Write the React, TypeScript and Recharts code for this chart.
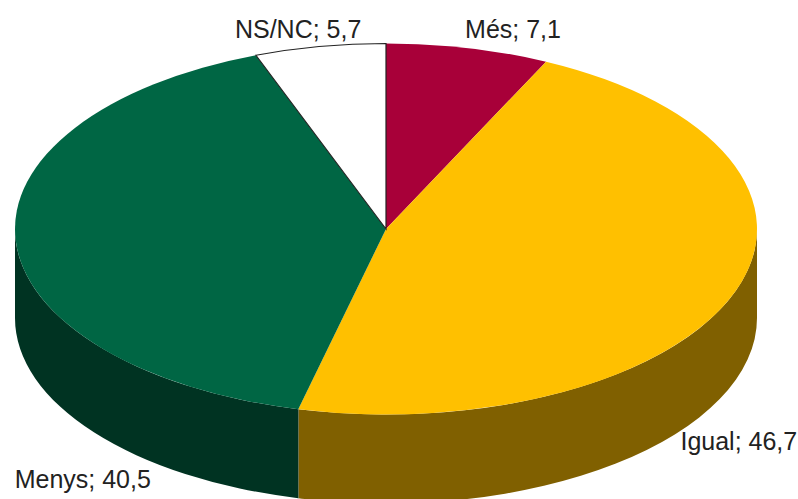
import { Pie, PieChart } from "recharts"

const categories = ["Més", "Igual", "Menys", "NS/NC"]
const values = [7.1, 46.7, 40.5, 5.7]
const topColors = ["#A80039", "#FFC000", "#006644", "#FFFFFF"]
const wallColors = ["#540020", "#806000", "#003322", "#808080"]
// where each label sits relative to the rim point of its slice
const labelNudges = [
  [-3, -10],
  [-55, 159],
  [-1, 248],
  [-85, -8],
]

const tableTop = categories.map((name, i) => ({ name, value: values[i], fill: topColors[i], nudge: labelNudges[i] }))
const tableWall = categories.map((name, i) => ({ name, value: values[i], fill: wallColors[i] }))

const FLATTEN = 0.5
const DEPTH = 89
const RAD = Math.PI / 180

const rim = (cx: number, cy: number, r: number, deg: number) => [
  cx + r * Math.cos(deg * RAD),
  cy - r * FLATTEN * Math.sin(deg * RAD),
]

function TopSlice(props: any) {
  const { cx, cy, outerRadius: r, startAngle, endAngle, fill } = props
  const [x1, y1] = rim(cx, cy, r, startAngle)
  const [x2, y2] = rim(cx, cy, r, endAngle)
  const large = Math.abs(startAngle - endAngle) > 180 ? 1 : 0
  const white = fill === "#FFFFFF"
  return (
    <path
      d={`M${cx},${cy} L${x1},${y1} A${r},${r * FLATTEN} 0 ${large} 1 ${x2},${y2} Z`}
      fill={fill}
      stroke={white ? "#222222" : "none"}
      strokeWidth={white ? 1.2 : 0}
    />
  )
}

// only the part of the side wall facing the viewer is visible
function WallSlice(props: any) {
  const { cx, cy, outerRadius: r, startAngle, endAngle, fill } = props
  const from = Math.min(startAngle, 0)
  const to = Math.max(endAngle, -180)
  if (from <= to) return <g />
  const [x1, y1] = rim(cx, cy, r, from)
  const [x2, y2] = rim(cx, cy, r, to)
  const ry = r * FLATTEN
  return (
    <g>
      <path
        d={`M${x1},${y1} A${r},${ry} 0 0 1 ${x2},${y2} L${x2},${y2 + DEPTH} A${r},${ry} 0 0 0 ${x1},${y1 + DEPTH} Z`}
        fill={fill}
      />
      {to > -180 && <path d={`M${x2},${y2} V${y2 + DEPTH}`} stroke="#8C8C70" strokeWidth={1} />}
    </g>
  )
}

function SliceLabel(props: any) {
  const { cx, cy, outerRadius: r, midAngle, name, value, nudge } = props
  const [x, y] = rim(cx, cy, r, midAngle)
  const text = `${name}; ${value.toFixed(1).replace(".", ",")}`
  return (
    <text x={x + nudge[0]} y={y + nudge[1]} fill="#222222" fontSize={25} fontFamily="Liberation Sans" textAnchor="start">
      {text}
    </text>
  )
}

export default function App() {
  return (
    <div style={{ position: "absolute", left: 0, top: 0, width: 798, height: 499, background: "#fff", overflow: "hidden" }}>
      <PieChart width={798} height={499} margin={{ top: 0, right: 0, bottom: 0, left: 0 }}>
        <Pie
          data={tableWall}
          dataKey="value"
          nameKey="name"
          cx={386}
          cy={229}
          innerRadius={0}
          outerRadius={371}
          startAngle={90}
          endAngle={-270}
          stroke="none"
          shape={WallSlice}
          isAnimationActive={false}
        />
        <Pie
          data={tableTop}
          dataKey="value"
          nameKey="name"
          cx={386}
          cy={229}
          innerRadius={0}
          outerRadius={371}
          startAngle={90}
          endAngle={-270}
          stroke="none"
          shape={TopSlice}
          label={SliceLabel}
          labelLine={false}
          isAnimationActive={false}
        />
      </PieChart>
    </div>
  )
}
